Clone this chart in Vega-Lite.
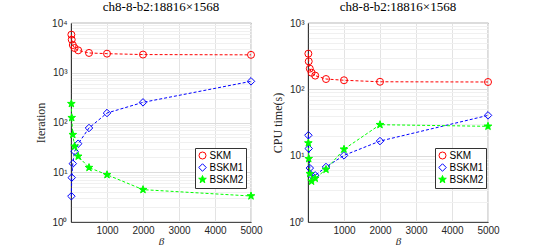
{
  "$schema": "https://vega.github.io/schema/vega-lite/v6.json",
  "background": "white",
  "padding": {"left": 34, "top": 0, "right": 5, "bottom": 0},
  "spacing": 8,
  "config": {
    "view": {"stroke": "#262626", "strokeWidth": 0.8},
    "title": {"font": "Liberation Serif", "fontSize": 13, "fontWeight": "normal", "color": "#000000", "offset": 0},
    "axis": {
      "labelFont": "Liberation Sans", "labelFontSize": 10, "labelColor": "#262626",
      "titleFont": "Liberation Serif", "titleFontWeight": "normal", "titleFontSize": 12, "titleColor": "#262626",
      "domainColor": "#262626", "domainWidth": 0.8, "tickColor": "#262626"
    },
    "legend": {
      "orient": "none", "title": null, "strokeColor": "#333333", "fillColor": "white",
      "padding": 2.5, "rowPadding": 0, "labelFont": "Liberation Sans", "labelFontSize": 10,
      "labelColor": "#000000", "symbolStrokeWidth": 1, "labelOffset": 2
    }
  },
  "datasets": {
    "iter": [
      {"beta": 10, "method": "SKM", "value": 5830},
      {"beta": 20, "method": "SKM", "value": 4620},
      {"beta": 50, "method": "SKM", "value": 3610},
      {"beta": 100, "method": "SKM", "value": 3140},
      {"beta": 200, "method": "SKM", "value": 2820},
      {"beta": 500, "method": "SKM", "value": 2500},
      {"beta": 1000, "method": "SKM", "value": 2420},
      {"beta": 2000, "method": "SKM", "value": 2320},
      {"beta": 5000, "method": "SKM", "value": 2290},
      {"beta": 10, "method": "BSKM1", "value": 3.3},
      {"beta": 20, "method": "BSKM1", "value": 7.8},
      {"beta": 50, "method": "BSKM1", "value": 14.9},
      {"beta": 100, "method": "BSKM1", "value": 26.3},
      {"beta": 200, "method": "BSKM1", "value": 37.5},
      {"beta": 500, "method": "BSKM1", "value": 77.5},
      {"beta": 1000, "method": "BSKM1", "value": 155},
      {"beta": 2000, "method": "BSKM1", "value": 254},
      {"beta": 5000, "method": "BSKM1", "value": 672},
      {"beta": 10, "method": "BSKM2", "value": 239},
      {"beta": 20, "method": "BSKM2", "value": 125},
      {"beta": 50, "method": "BSKM2", "value": 57},
      {"beta": 100, "method": "BSKM2", "value": 33.2},
      {"beta": 200, "method": "BSKM2", "value": 20.9},
      {"beta": 500, "method": "BSKM2", "value": 12.4},
      {"beta": 1000, "method": "BSKM2", "value": 8.9},
      {"beta": 2000, "method": "BSKM2", "value": 4.47},
      {"beta": 5000, "method": "BSKM2", "value": 3.33}
    ],
    "cpu": [
      {"beta": 10, "method": "SKM", "value": 345},
      {"beta": 20, "method": "SKM", "value": 264},
      {"beta": 50, "method": "SKM", "value": 205},
      {"beta": 100, "method": "SKM", "value": 178},
      {"beta": 200, "method": "SKM", "value": 161},
      {"beta": 500, "method": "SKM", "value": 143},
      {"beta": 1000, "method": "SKM", "value": 137},
      {"beta": 2000, "method": "SKM", "value": 130},
      {"beta": 5000, "method": "SKM", "value": 129},
      {"beta": 10, "method": "BSKM1", "value": 20.3},
      {"beta": 20, "method": "BSKM1", "value": 12.8},
      {"beta": 50, "method": "BSKM1", "value": 6.5},
      {"beta": 100, "method": "BSKM1", "value": 5.05},
      {"beta": 200, "method": "BSKM1", "value": 5.05},
      {"beta": 500, "method": "BSKM1", "value": 6.75},
      {"beta": 1000, "method": "BSKM1", "value": 10.1},
      {"beta": 2000, "method": "BSKM1", "value": 16.6},
      {"beta": 5000, "method": "BSKM1", "value": 40.5},
      {"beta": 10, "method": "BSKM2", "value": 15.5},
      {"beta": 20, "method": "BSKM2", "value": 9.0},
      {"beta": 50, "method": "BSKM2", "value": 5.35},
      {"beta": 100, "method": "BSKM2", "value": 4.1},
      {"beta": 200, "method": "BSKM2", "value": 4.55},
      {"beta": 500, "method": "BSKM2", "value": 6.2},
      {"beta": 1000, "method": "BSKM2", "value": 12.5},
      {"beta": 2000, "method": "BSKM2", "value": 29.3},
      {"beta": 5000, "method": "BSKM2", "value": 27.7}
    ]
  },
  "resolve": {"legend": {"stroke": "independent", "shape": "independent", "fill": "independent", "size": "independent"}, "scale": {"y": "independent"}},
  "hconcat": [
    {
      "width": 180, "height": 199,
      "title": "ch8-8-b2:18816×1568",
      "data": {"name": "iter"},
      "encoding": {
        "x": {"field": "beta", "type": "quantitative",
          "scale": {"domain": [0, 5000], "nice": false},
          "axis": {"title": "β", "titleFontStyle": "italic", "titleFontSize": 11, "values": [1000, 2000, 3000, 4000, 5000], "format": "d", "grid": true, "gridColor": "#e3e3e3", "ticks": false, "labelPadding": 3, "titlePadding": 0, "labelFlush": false}},
        "y": {"field": "value", "type": "quantitative",
          "scale": {"type": "log", "domain": [1, 10000], "nice": false},
          "axis": {"title": "Iteration", "values": [1,2,3,4,5,6,7,8,9,10,20,30,40,50,60,70,80,90,100,200,300,400,500,600,700,800,900,1000,2000,3000,4000,5000,6000,7000,8000,9000,10000],
            "grid": true,
            "gridColor": {"condition": {"test": "abs(log(datum.value)/LN10 - round(log(datum.value)/LN10)) < 0.000001", "value": "#dcdcdc"}, "value": "#f0f0f0"},
            "ticks": false,
            "labelExpr": "abs(log(datum.value)/LN10 - round(log(datum.value)/LN10)) < 0.000001 ? '10' + ['⁰','¹','²','³','⁴'][round(log(datum.value)/LN10)] : ''",
            "labelPadding": 4, "titlePadding": 4}},
        "stroke": {"field": "method", "type": "nominal",
          "scale": {"domain": ["SKM", "BSKM1", "BSKM2"], "range": ["#ff0000", "#0000ff", "#00ff00"]},
          "legend": {"legendX": 124, "legendY": 125}}
      },
      "layer": [
        {"mark": {"type": "line", "strokeDash": [3, 2], "strokeWidth": 1}},
        {"mark": {"type": "point", "strokeWidth": 1, "opacity": 1},
         "encoding": {
           "shape": {"field": "method", "type": "nominal",
             "scale": {"domain": ["SKM", "BSKM1", "BSKM2"], "range": ["circle", "diamond", "M0,-1L0.235,-0.324L0.951,-0.309L0.38,0.124L0.588,0.809L0,0.4L-0.588,0.809L-0.38,0.124L-0.951,-0.309L-0.235,-0.324Z"]},
             "legend": {"legendX": 124, "legendY": 125}},
           "size": {"field": "method", "type": "nominal",
             "scale": {"domain": ["SKM", "BSKM1", "BSKM2"], "range": [49, 64, 85]},
             "legend": {"legendX": 124, "legendY": 125}},
           "fill": {"field": "method", "type": "nominal",
             "scale": {"domain": ["SKM", "BSKM1", "BSKM2"], "range": ["transparent", "transparent", "#00ff00"]},
             "legend": {"legendX": 124, "legendY": 125}}
         }}
      ]
    },
    {
      "width": 180, "height": 199,
      "title": "ch8-8-b2:18816×1568",
      "data": {"name": "cpu"},
      "encoding": {
        "x": {"field": "beta", "type": "quantitative",
          "scale": {"domain": [0, 5000], "nice": false},
          "axis": {"title": "β", "titleFontStyle": "italic", "titleFontSize": 11, "values": [1000, 2000, 3000, 4000, 5000], "format": "d", "grid": true, "gridColor": "#e3e3e3", "ticks": false, "labelPadding": 3, "titlePadding": 0, "labelFlush": false}},
        "y": {"field": "value", "type": "quantitative",
          "scale": {"type": "log", "domain": [1, 1000], "nice": false},
          "axis": {"title": "CPU time(s)", "values": [1,2,3,4,5,6,7,8,9,10,20,30,40,50,60,70,80,90,100,200,300,400,500,600,700,800,900,1000],
            "grid": true,
            "gridColor": {"condition": {"test": "abs(log(datum.value)/LN10 - round(log(datum.value)/LN10)) < 0.000001", "value": "#dcdcdc"}, "value": "#f0f0f0"},
            "ticks": false,
            "labelExpr": "abs(log(datum.value)/LN10 - round(log(datum.value)/LN10)) < 0.000001 ? '10' + ['⁰','¹','²','³','⁴'][round(log(datum.value)/LN10)] : ''",
            "labelPadding": 4, "titlePadding": 4}},
        "stroke": {"field": "method", "type": "nominal",
          "scale": {"domain": ["SKM", "BSKM1", "BSKM2"], "range": ["#ff0000", "#0000ff", "#00ff00"]},
          "legend": {"legendX": 127, "legendY": 125}}
      },
      "layer": [
        {"mark": {"type": "line", "strokeDash": [3, 2], "strokeWidth": 1}},
        {"mark": {"type": "point", "strokeWidth": 1, "opacity": 1},
         "encoding": {
           "shape": {"field": "method", "type": "nominal",
             "scale": {"domain": ["SKM", "BSKM1", "BSKM2"], "range": ["circle", "diamond", "M0,-1L0.235,-0.324L0.951,-0.309L0.38,0.124L0.588,0.809L0,0.4L-0.588,0.809L-0.38,0.124L-0.951,-0.309L-0.235,-0.324Z"]},
             "legend": {"legendX": 127, "legendY": 125}},
           "size": {"field": "method", "type": "nominal",
             "scale": {"domain": ["SKM", "BSKM1", "BSKM2"], "range": [49, 64, 85]},
             "legend": {"legendX": 127, "legendY": 125}},
           "fill": {"field": "method", "type": "nominal",
             "scale": {"domain": ["SKM", "BSKM1", "BSKM2"], "range": ["transparent", "transparent", "#00ff00"]},
             "legend": {"legendX": 127, "legendY": 125}}
         }}
      ]
    }
  ]
}
